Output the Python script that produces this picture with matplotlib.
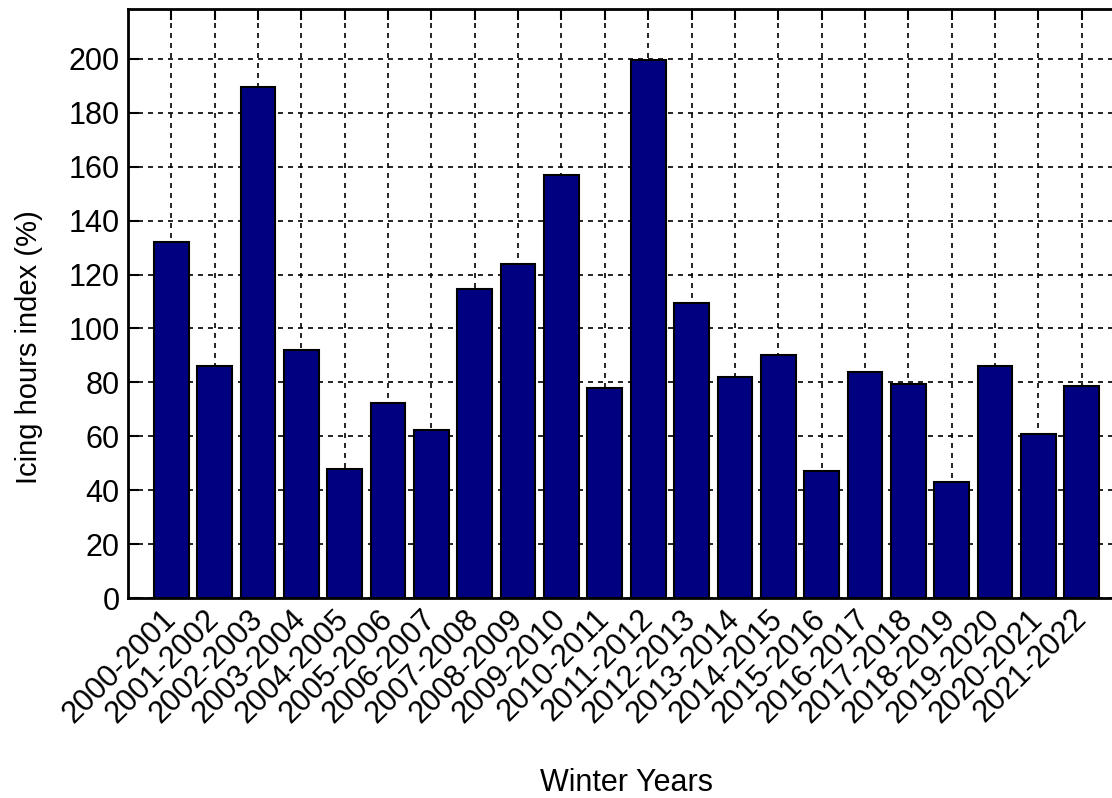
import matplotlib
matplotlib.use('Agg')
import matplotlib.pyplot as plt
import numpy as np

plt.rcParams['font.family'] = ['Liberation Sans', 'DejaVu Sans']

winters = ['2000-2001', '2001-2002', '2002-2003', '2003-2004', '2004-2005',
           '2005-2006', '2006-2007', '2007-2008', '2008-2009', '2009-2010',
           '2010-2011', '2011-2012', '2012-2013', '2013-2014', '2014-2015',
           '2015-2016', '2016-2017', '2017-2018', '2018-2019', '2019-2020',
           '2020-2021', '2021-2022']
icing_index = [132, 86, 189.5, 92, 48, 72.5, 62.5, 114.5, 124, 157,
               78, 199.5, 109.5, 82, 90, 47, 84, 79.5, 43, 86, 61, 78.5]

fig = plt.figure(figsize=(11.12, 7.98), dpi=100)
# axes run slightly past the right edge of the canvas
ax = fig.add_axes([128 / 1112, 200 / 798, 997 / 1112, 589 / 798])

x = np.arange(1, len(winters) + 1)
ax.bar(x, icing_index, width=0.8, color='#000080', edgecolor='black',
       linewidth=1.5, zorder=2)

ax.set_xlim(0, len(winters) + 1)
ax.set_ylim(0, 218.5)
ax.set_yticks(np.arange(0, 201, 20))
ax.set_xticks(x)
ax.set_xticklabels(winters, rotation=45, ha='right', va='center',
                   rotation_mode='anchor')

ax.grid(True, color='black', linestyle=(0, (3, 3)), linewidth=1.2, zorder=0)
ax.set_axisbelow(True)
ax.tick_params(direction='in', length=8, width=1.5, top=True, right=True,
               labelsize=22, pad=6)
ax.tick_params(axis='x', pad=12)
for s in ax.spines.values():
    s.set_linewidth(2)

ax.set_ylabel('Icing hours index (%)', fontsize=21)
ax.yaxis.set_label_coords(-0.085, 0.426)
ax.set_xlabel('Winter Years', fontsize=22, labelpad=28)

fig.savefig('out.png', dpi=100)
